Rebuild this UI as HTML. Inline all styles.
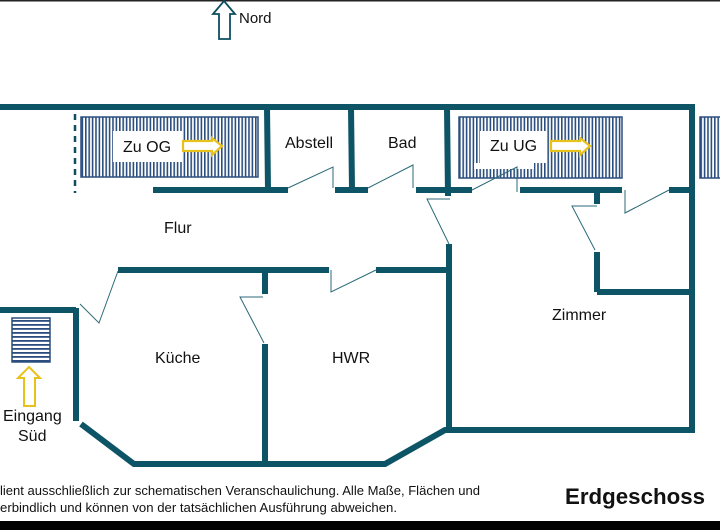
<!DOCTYPE html>
<html><head><meta charset="utf-8"><style>
html,body{margin:0;padding:0;background:#fff}
svg{display:block}
text{font-family:"Liberation Sans",sans-serif;fill:#111}
</style></head><body>
<svg width="720" height="530" viewBox="0 0 720 530" xmlns="http://www.w3.org/2000/svg">
<defs>
<pattern id="vs" width="3.4" height="10" patternUnits="userSpaceOnUse"><rect width="1.6" height="10" fill="#2b4e7e"/></pattern>
<pattern id="hs" width="10" height="4" patternUnits="userSpaceOnUse"><rect width="10" height="1.8" fill="#2b4e7e"/></pattern>
</defs>
<rect x="0" y="0" width="720" height="1.5" fill="#222"/>
<rect x="0" y="521" width="720" height="9" fill="#000"/>
<polygon points="224,1 235,14 230,14 230,39 219,39 219,14 213,14" fill="#fff" stroke="#0d4f60" stroke-width="1.8"/>
<text x="239" y="23" font-size="15">Nord</text>
<rect x="81" y="117" width="177" height="60" fill="url(#vs)" stroke="#2b4e7e" stroke-width="1.5"/>
<rect x="113" y="131" width="69" height="31" fill="#fff"/>
<text x="123" y="152" font-size="16">Zu OG</text>
<polygon points="183,141 212,141 212,138 222,146 212,155 212,151 183,151" fill="#fff" stroke="#e8c21c" stroke-width="2.2"/>
<rect x="459" y="117" width="163" height="61" fill="url(#vs)" stroke="#2b4e7e" stroke-width="1.5"/>
<rect x="480" y="131" width="67" height="32" fill="#fff"/>
<rect x="474" y="163" width="60" height="6" fill="#fff"/>
<text x="490" y="151" font-size="16">Zu UG</text>
<polygon points="551,141 580,141 580,138 590,146 580,155 580,151 551,151" fill="#fff" stroke="#e8c21c" stroke-width="2.2"/>
<rect x="700" y="117" width="22" height="61" fill="url(#vs)" stroke="#2b4e7e" stroke-width="1.5"/>
<rect x="12" y="318" width="38" height="44" fill="url(#hs)" stroke="#2b4e7e" stroke-width="1.5"/>
<polygon points="29,367 40,378 35,378 35,406 24,406 24,378 18,378" fill="#fff" stroke="#e8c21c" stroke-width="2"/>
<line x1="75" y1="114" x2="75" y2="193" stroke="#0d4f60" stroke-width="2.5" stroke-dasharray="6,5"/>
<g stroke="#0d5466" stroke-width="6" fill="none" stroke-linecap="butt">
<line x1="0" y1="107" x2="695" y2="107"/>
<line x1="692" y1="104" x2="692" y2="433"/>
<line x1="267" y1="107" x2="268" y2="190"/>
<line x1="153" y1="190" x2="288" y2="190"/>
<line x1="351" y1="107" x2="352" y2="190"/>
<line x1="335" y1="190" x2="368" y2="190"/>
<line x1="447" y1="107" x2="448" y2="196"/>
<line x1="416" y1="190" x2="472" y2="190"/>
<line x1="520" y1="190" x2="622" y2="190"/>
<line x1="597" y1="190" x2="597" y2="204"/>
<line x1="669" y1="190" x2="692" y2="190"/>
<line x1="597" y1="252" x2="597" y2="292"/>
<line x1="597" y1="292" x2="692" y2="292"/>
<line x1="449" y1="244" x2="449" y2="432"/>
<line x1="376" y1="270" x2="449" y2="270"/>
<line x1="118" y1="270" x2="329" y2="270"/>
<line x1="265" y1="270" x2="265" y2="294"/>
<line x1="265" y1="344" x2="265" y2="464"/>
<line x1="0" y1="310" x2="76" y2="310"/>
<line x1="76" y1="308" x2="76" y2="421"/>
<polyline points="81,424 134,464 385,464 445,430 692,430"/>
</g>
<g stroke="#2d6a78" stroke-width="1" fill="none">
<polyline points="288,188 333,167 333,188"/>
<polyline points="368,188 413,165 413,188"/>
<polyline points="472,190 517,167 517,192"/>
<polyline points="450,199 427,199 449,244"/>
<polyline points="597,206 572,206 595,250"/>
<polyline points="669,190 625,213 625,190"/>
<polyline points="376,270 331,292 331,270"/>
<polyline points="263,297 240,297 264,343"/>
<polyline points="118,271 99,323 80,304"/>
</g>
<g font-size="16">
<text x="285" y="148">Abstell</text>
<text x="388" y="148">Bad</text>
<text x="164" y="233">Flur</text>
<text x="155" y="363">Küche</text>
<text x="332" y="363">HWR</text>
<text x="552" y="320">Zimmer</text>
<text x="3" y="421">Eingang</text>
<text x="18" y="441">Süd</text>
</g>
<text x="0" y="495" font-size="13" textLength="480" lengthAdjust="spacingAndGlyphs">lient ausschließlich zur schematischen Veranschaulichung. Alle Maße, Flächen und</text>
<text x="0" y="512" font-size="13" textLength="397" lengthAdjust="spacingAndGlyphs">erbindlich und können von der tatsächlichen Ausführung abweichen.</text>
<text x="565" y="504" font-size="22" font-weight="bold" textLength="140" lengthAdjust="spacingAndGlyphs">Erdgeschoss</text>
</svg>
</body></html>
